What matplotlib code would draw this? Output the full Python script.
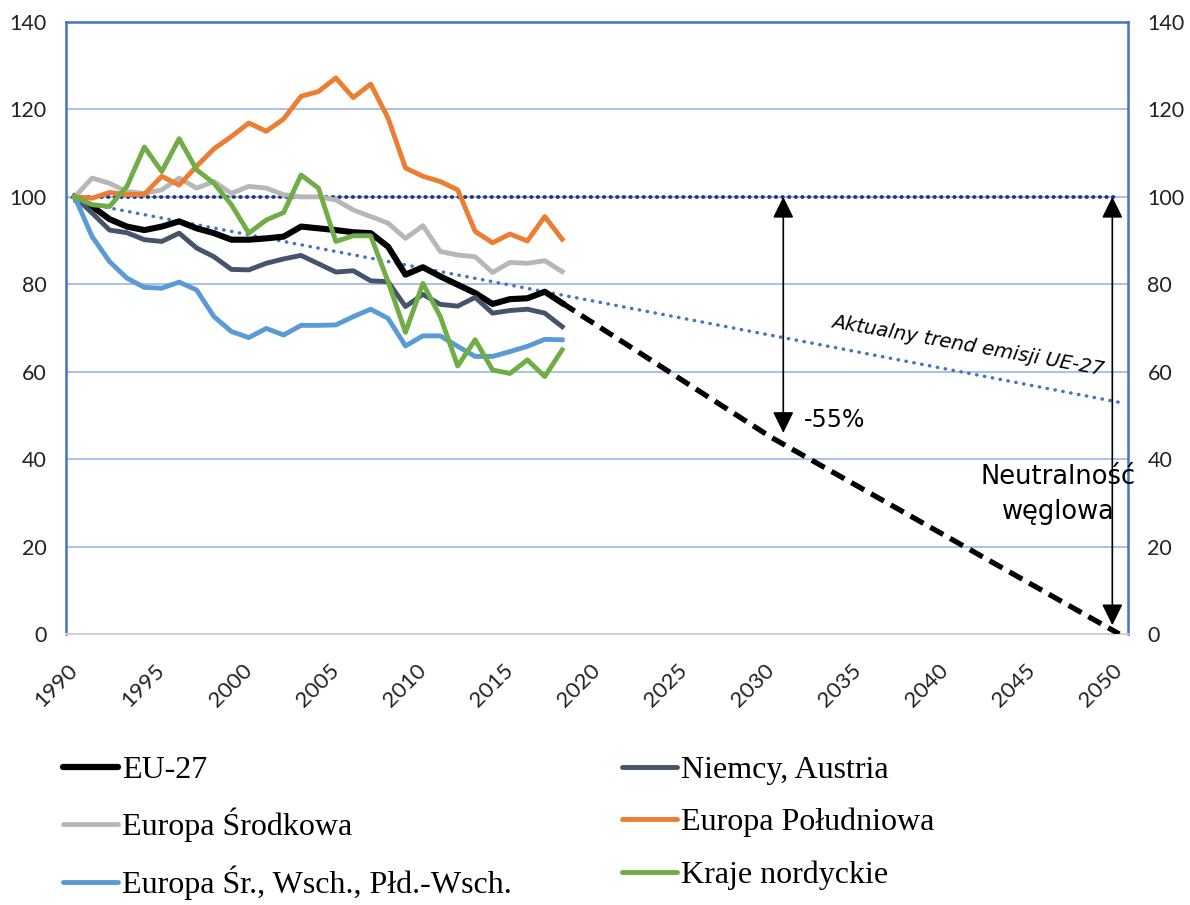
import matplotlib
matplotlib.use("Agg")
import matplotlib.pyplot as plt
from matplotlib.lines import Line2D
import numpy as np

# emisje, 1990 = 100
years = np.arange(1990, 2019)

eu27 = [100, 97.8, 94.9, 93.2, 92.4, 93.2, 94.4, 92.8, 91.7, 90.2, 90.2, 90.5, 90.9, 93.2, 92.8,
        92.4, 91.9, 91.7, 88.6, 82.2, 83.9, 81.8, 79.9, 78.0, 75.5, 76.6, 76.8, 78.3, 75.7]
niemcy = [100, 96.3, 92.4, 91.8, 90.2, 89.8, 91.7, 88.3, 86.3, 83.4, 83.3, 84.8, 85.8, 86.6, 84.7,
          82.8, 83.1, 80.8, 80.6, 74.9, 77.7, 75.4, 75.0, 77.0, 73.4, 74.0, 74.3, 73.4, 70.3]
srodkowa = [100, 104.3, 103.1, 101.2, 100.8, 101.6, 104.3, 102.0, 103.5, 100.8, 102.4, 102.0, 100.5, 100.0, 100.0,
            99.3, 97.0, 95.5, 94.0, 90.5, 93.4, 87.5, 86.7, 86.3, 82.7, 85.0, 84.8, 85.4, 82.9]
poludniowa = [100, 99.7, 101.0, 100.5, 100.6, 104.7, 102.7, 107.0, 111.0, 113.8, 116.9, 115.0, 117.8, 123.0, 124.1,
              127.2, 122.7, 125.8, 118.0, 106.6, 104.7, 103.5, 101.6, 92.1, 89.5, 91.5, 89.9, 95.5, 90.3]
wschod = [100, 90.9, 85.2, 81.4, 79.3, 79.1, 80.5, 78.7, 72.6, 69.2, 67.8, 69.9, 68.4, 70.6, 70.6,
          70.7, 72.6, 74.3, 72.2, 65.9, 68.2, 68.2, 65.8, 63.5, 63.5, 64.6, 65.8, 67.4, 67.3]
nordyckie = [100, 98.2, 97.8, 102.4, 111.4, 105.8, 113.3, 106.2, 103.1, 98.2, 91.7, 94.7, 96.4, 105.0, 102.0,
             89.8, 91.1, 91.1, 80.6, 69.0, 80.2, 72.6, 61.3, 67.3, 60.4, 59.6, 62.7, 58.9, 65.0]

# sciezka celu i trend
target_years = [2018, 2030, 2050]
target_vals = [eu27[-1], 45, 0]
trend_years = [1990, 2050]
trend_vals = [99, 53]
base_years = [1990, 2050]
base_vals = [100, 100]

series = [
    ("EU-27", eu27, "black", 4.4),
    ("Niemcy, Austria", niemcy, "#44546A", 3.5),
    ("Europa Środkowa", srodkowa, "#B7B7B7", 3.5),
    ("Europa Południowa", poludniowa, "#ED7D31", 3.5),
    ("Europa Śr., Wsch., Płd.-Wsch.", wschod, "#5B9BD5", 3.5),
    ("Kraje nordyckie", nordyckie, "#70AD47", 3.5),
]

plt.rcParams["font.family"] = "Lato"
note_font = "DejaVu Sans"

fig = plt.figure(figsize=(11.9, 9.05), dpi=100)
ax = fig.add_axes([66 / 1190, 1 - 634 / 905, (1128 - 66) / 1190, (634 - 22) / 905])

ax.set_xlim(1989.5, 2050.5)
ax.set_ylim(0, 140)
ax.set_yticks(np.arange(0, 141, 20))
ax.set_xticks(np.arange(1990, 2051, 5))
ax.grid(axis="y", color="#A8C0E8", lw=1.4)
ax.set_axisbelow(True)

for side in ["left", "right", "top"]:
    ax.spines[side].set_color("#4472C4")
    ax.spines[side].set_linewidth(1.8)
ax.spines["bottom"].set_color("#D0D0D0")
ax.spines["bottom"].set_linewidth(1.4)

ax.tick_params(axis="y", length=0, pad=14, labelsize=15.5, labelright=True, labelcolor="#222222")
ax.tick_params(axis="x", length=0, pad=24, labelsize=16, labelcolor="#222222")
for lab in ax.get_xticklabels():
    lab.set_rotation(45)
    lab.set_ha("right")
    lab.set_va("center")
    lab.set_rotation_mode("anchor")

# linia bazowa 100 i trend
ax.plot(base_years, base_vals, color="#1F3A7A", lw=2.8, ls=(0, (0.1, 1.6)),
        dash_capstyle="round", zorder=3)
ax.plot(trend_years, trend_vals, color="#4472C4", lw=2.5, ls=(0, (0.1, 2.2)),
        dash_capstyle="round", zorder=3)

handles = {}
for name, vals, col, lw in series:
    ax.plot(years, vals, color=col, lw=lw, zorder=4)
    handles[name] = Line2D([], [], color=col, lw=4.5 if col == "black" else 3.5,
                           solid_capstyle="round")

ax.plot(target_years, target_vals, color="black", lw=3.8, ls=(0, (2.8, 1.5)), zorder=4)

# strzalki
arrow_kw = dict(arrowstyle="<|-|>,head_length=0.65,head_width=0.32", color="black",
                lw=1.2, mutation_scale=20, shrinkA=0, shrinkB=0)
ax.annotate("", xy=(2030.7, 46), xytext=(2030.7, 100), arrowprops=arrow_kw, zorder=6)
ax.annotate("", xy=(2049.6, 2), xytext=(2049.6, 100), arrowprops=arrow_kw, zorder=6)

ax.text(2031.9, 49, "-55%", fontsize=17, family=note_font, va="center", ha="left")
ax.text(2046.5, 36, "Neutralność", fontsize=18.5, family=note_font, va="center", ha="center",
        clip_on=False)
ax.text(2046.5, 28, "węglowa", fontsize=18.5, family=note_font, va="center", ha="center",
        clip_on=False)
ax.text(2041.3, 66, "Aktualny trend emisji UE-27", fontsize=14.2, family=note_font,
        style="italic", rotation=-10, va="center", ha="center")

order = ["EU-27", "Europa Środkowa", "Europa Śr., Wsch., Płd.-Wsch.",
         "Niemcy, Austria", "Europa Południowa", "Kraje nordyckie"]
fig.legend([handles[n] for n in order], order, loc="upper left", bbox_to_anchor=(0.029, 0.197),
           ncol=2, frameon=False, prop={"family": "Liberation Serif", "size": 23},
           handlelength=1.7, handletextpad=0.15, columnspacing=3.45, labelspacing=0.72)

fig.savefig("out.png", dpi=100)
